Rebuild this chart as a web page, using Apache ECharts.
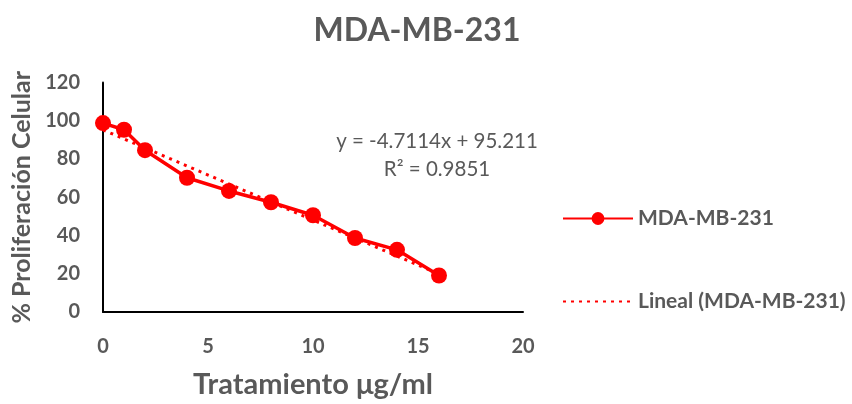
<!DOCTYPE html>
<html>
<head>
<meta charset="utf-8">
<script src="https://cdn.jsdelivr.net/npm/echarts@6/dist/echarts.min.js"></script>
<style>
  html, body { margin: 0; padding: 0; background: #fff; }
  #chart { width: 852px; height: 404px; }
</style>
</head>
<body>
<div id="chart"></div>
<script>
// Dose (µg/ml) and measured proliferation (%)
const doses = [0, 1, 2, 4, 6, 8, 10, 12, 14, 16];
const proliferation = [98.8, 95.3, 84.6, 70.2, 63.3, 57.4, 50.6, 38.7, 32.5, 19.1];

// Linear fit reported on the chart: y = slope * x + intercept
const trendSlope = -4.7114;
const trendIntercept = 95.211;
const trendR2 = 0.9851;
const trendRange = [0, 16];

const xTicks = [0, 5, 10, 15, 20];
const yTicks = [0, 20, 40, 60, 80, 100, 120];

const grey = '#595959';
const red = '#ff0000';
const font = 'Lato, "Open Sans", sans-serif';

const measured = doses.map((d, i) => [d, proliferation[i]]);
const trend = trendRange.map(x => [x, trendSlope * x + trendIntercept]);

const chart = echarts.init(document.getElementById('chart'), null, { renderer: 'canvas' });
chart.setOption({
  animation: false,
  backgroundColor: '#fff',
  textStyle: { fontFamily: font },
  title: {
    text: 'MDA-MB-231',
    left: 412,
    textAlign: 'center',
    top: 10,
    textStyle: { fontFamily: font, fontSize: 32, fontWeight: 'bold', color: grey }
  },
  grid: { left: 103, right: 329, top: 82.5, bottom: 90.5, containLabel: false },
  xAxis: {
    type: 'value',
    min: xTicks[0],
    max: xTicks[xTicks.length - 1],
    interval: 5,
    name: 'Tratamiento μg/ml',
    nameLocation: 'middle',
    nameGap: 58,
    nameTextStyle: { fontFamily: font, fontSize: 29, fontWeight: 'bold', color: grey },
    axisLine: { onZero: false, lineStyle: { color: '#000', width: 2 } },
    axisTick: { show: false },
    splitLine: { show: false },
    axisLabel: { margin: 25, fontFamily: font, fontSize: 20, fontWeight: 'bold', color: grey }
  },
  yAxis: {
    type: 'value',
    min: yTicks[0],
    max: yTicks[yTicks.length - 1],
    interval: 20,
    name: '% Proliferación Celular',
    nameLocation: 'middle',
    nameGap: 69,
    nameTextStyle: { fontFamily: font, fontSize: 25, fontWeight: 'bold', color: grey },
    axisLine: { show: true, onZero: false, lineStyle: { color: '#000', width: 2 } },
    axisTick: { show: false },
    splitLine: { show: false },
    axisLabel: { margin: 23, fontFamily: font, fontSize: 20, fontWeight: 'bold', color: grey }
  },
  legend: {
    orient: 'vertical',
    left: 557,
    top: 203,
    itemWidth: 70,
    itemHeight: 16,
    itemGap: 62,
    textStyle: { fontFamily: font, fontSize: 21, fontWeight: 'bold', color: grey },
    data: [
      { name: 'MDA-MB-231' },
      { name: 'Lineal (MDA-MB-231)', itemStyle: { opacity: 0 } }
    ]
  },
  graphic: [{
    type: 'text',
    x: 437,
    y: 127,
    style: {
      text: 'y = -4.7114x + 95.211\nR² = ' + trendR2.toFixed(4),
      align: 'center',
      verticalAlign: 'top',
      lineHeight: 28,
      font: '20.5px ' + font,
      fill: grey
    }
  }],
  series: [
    {
      name: 'MDA-MB-231',
      type: 'line',
      data: measured,
      symbol: 'circle',
      symbolSize: 16,
      itemStyle: { color: red },
      lineStyle: { color: red, width: 3.5 },
      z: 3
    },
    {
      name: 'Lineal (MDA-MB-231)',
      type: 'line',
      data: trend,
      symbol: 'none',
      itemStyle: { color: red },
      lineStyle: { color: red, width: 3, type: [3, 5] },
      z: 2
    }
  ]
});
</script>
</body>
</html>
